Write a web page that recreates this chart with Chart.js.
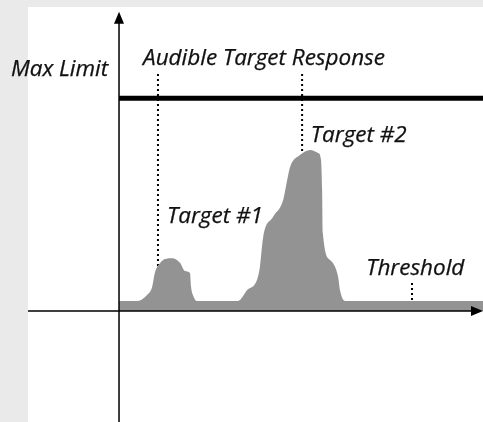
<!DOCTYPE html>
<html lang="en">
<head>
<meta charset="UTF-8">
<title>Target Response</title>
<script src="https://cdn.jsdelivr.net/npm/chart.js"></script>
<style>
    html, body {
        margin: 0;
        padding: 0;
        background: #eaeaea;
        width: 483px;
        height: 422px;
        overflow: hidden;
    }
    canvas { display: block; }
</style>
</head>
<body>
<canvas id="chart" width="483" height="422"></canvas>
<script>
// signal trace (time units, level units)
const signalX = [0, 4.9, 7.7, 9.1, 9.9, 11.3, 12.6, 14.6, 16.8, 18.1, 19.5, 19.8, 20.3, 21.4,
                 32.7, 35.2, 37.9, 38.7, 39.6, 42.3, 45.1, 46.2, 47.0, 49.7, 52.5, 54.7, 55.5, 55.8, 56.0, 58.0, 60.2, 60.7, 62.1, 100];
const signalY = [3.3, 3.3, 5.3, 7.9, 12.8, 15.8, 17.1, 17.4, 15.8, 13.2, 12.5, 7.9, 5.3, 3.3,
                 3.3, 6.9, 10.2, 14.5, 24.3, 30.9, 36.5, 43.1, 47.4, 51.3, 53.0, 52.0, 49.7, 39.8, 25.7, 16.8, 11.2, 6.9, 3.3, 3.3];
const maxLimit = 70;
// dotted markers: x, top, bottom
const markerX = [10.7, 50.3, 80.5];
const markerTop = [78, 78, 9.2];
const markerBottom = [3.9, 40.8, 1.6];
// text labels
const labelText = ['Max Limit', 'Audible Target Response', 'Target #1', 'Target #2', 'Threshold'];
const labelX = [-29.7, 6.6, 13.2, 52.7, 67.9];
const labelY = [77.3, 80.9, 28.9, 55.6, 11.8];

const xMin = -32.7, xMax = 100, yMin = -36.5, yMax = 102.3;
const panelLeft = -25, panelTop = 100, yArrowTop = 98.4;

const datasets = [{
    data: signalX.map((x, i) => ({ x, y: signalY[i] })),
    backgroundColor: '#939393',
    borderWidth: 0,
    fill: 'origin',
    pointRadius: 0,
    cubicInterpolationMode: 'monotone'
}, {
    data: [{ x: 0, y: maxLimit }, { x: xMax, y: maxLimit }],
    borderColor: '#000',
    borderWidth: 5,
    pointRadius: 0,
    fill: false
}];
markerX.forEach((x, i) => {
    datasets.push({
        data: [{ x, y: markerTop[i] }, { x, y: markerBottom[i] }],
        borderColor: '#000',
        borderWidth: 2,
        borderDash: [2, 3],
        pointRadius: 0,
        fill: false
    });
});

const panelPlugin = {
    id: 'panel',
    beforeDraw(chart) {
        const { ctx, scales: { x, y } } = chart;
        const l = x.getPixelForValue(panelLeft), t = y.getPixelForValue(panelTop);
        ctx.save();
        ctx.fillStyle = '#fff';
        ctx.fillRect(l, t, chart.width - l, chart.height - t);
        ctx.restore();
    }
};

const axesPlugin = {
    id: 'axes',
    afterDatasetsDraw(chart) {
        const { ctx, scales: { x, y } } = chart;
        const x0 = x.getPixelForValue(0), y0 = y.getPixelForValue(0);
        const left = x.getPixelForValue(panelLeft), right = x.getPixelForValue(xMax);
        const bottom = y.getPixelForValue(yMin), top = y.getPixelForValue(yArrowTop);
        ctx.save();
        ctx.strokeStyle = '#000';
        ctx.fillStyle = '#000';
        ctx.lineWidth = 1.5;
        ctx.beginPath();
        ctx.moveTo(left, y0); ctx.lineTo(right - 8, y0);
        ctx.moveTo(x0, bottom); ctx.lineTo(x0, top + 8);
        ctx.stroke();
        // arrow heads
        ctx.beginPath();
        ctx.moveTo(right, y0); ctx.lineTo(right - 12, y0 - 5); ctx.lineTo(right - 12, y0 + 5); ctx.closePath();
        ctx.fill();
        ctx.beginPath();
        ctx.moveTo(x0, top); ctx.lineTo(x0 - 5, top + 12); ctx.lineTo(x0 + 5, top + 12); ctx.closePath();
        ctx.fill();
        // labels (lightly stroked for a slightly heavier italic)
        ctx.font = 'italic 21px "Open Sans", sans-serif';
        ctx.textBaseline = 'alphabetic';
        ctx.fillStyle = '#111';
        ctx.strokeStyle = '#111';
        ctx.lineWidth = 0.25;
        labelText.forEach((t, i) => {
            ctx.save();
            ctx.translate(x.getPixelForValue(labelX[i]), y.getPixelForValue(labelY[i]));
            ctx.scale(1.07, 1);
            ctx.fillText(t, 0, 0);
            ctx.strokeText(t, 0, 0);
            ctx.restore();
        });
        ctx.restore();
    }
};

new Chart(document.getElementById('chart'), {
    type: 'line',
    data: { datasets },
    options: {
        responsive: false,
        animation: false,
        layout: { padding: 0 },
        plugins: { legend: { display: false }, tooltip: { enabled: false } },
        scales: {
            x: { type: 'linear', min: xMin, max: xMax, display: false },
            y: { type: 'linear', min: yMin, max: yMax, display: false }
        }
    },
    plugins: [panelPlugin, axesPlugin]
});
</script>
</body>
</html>
